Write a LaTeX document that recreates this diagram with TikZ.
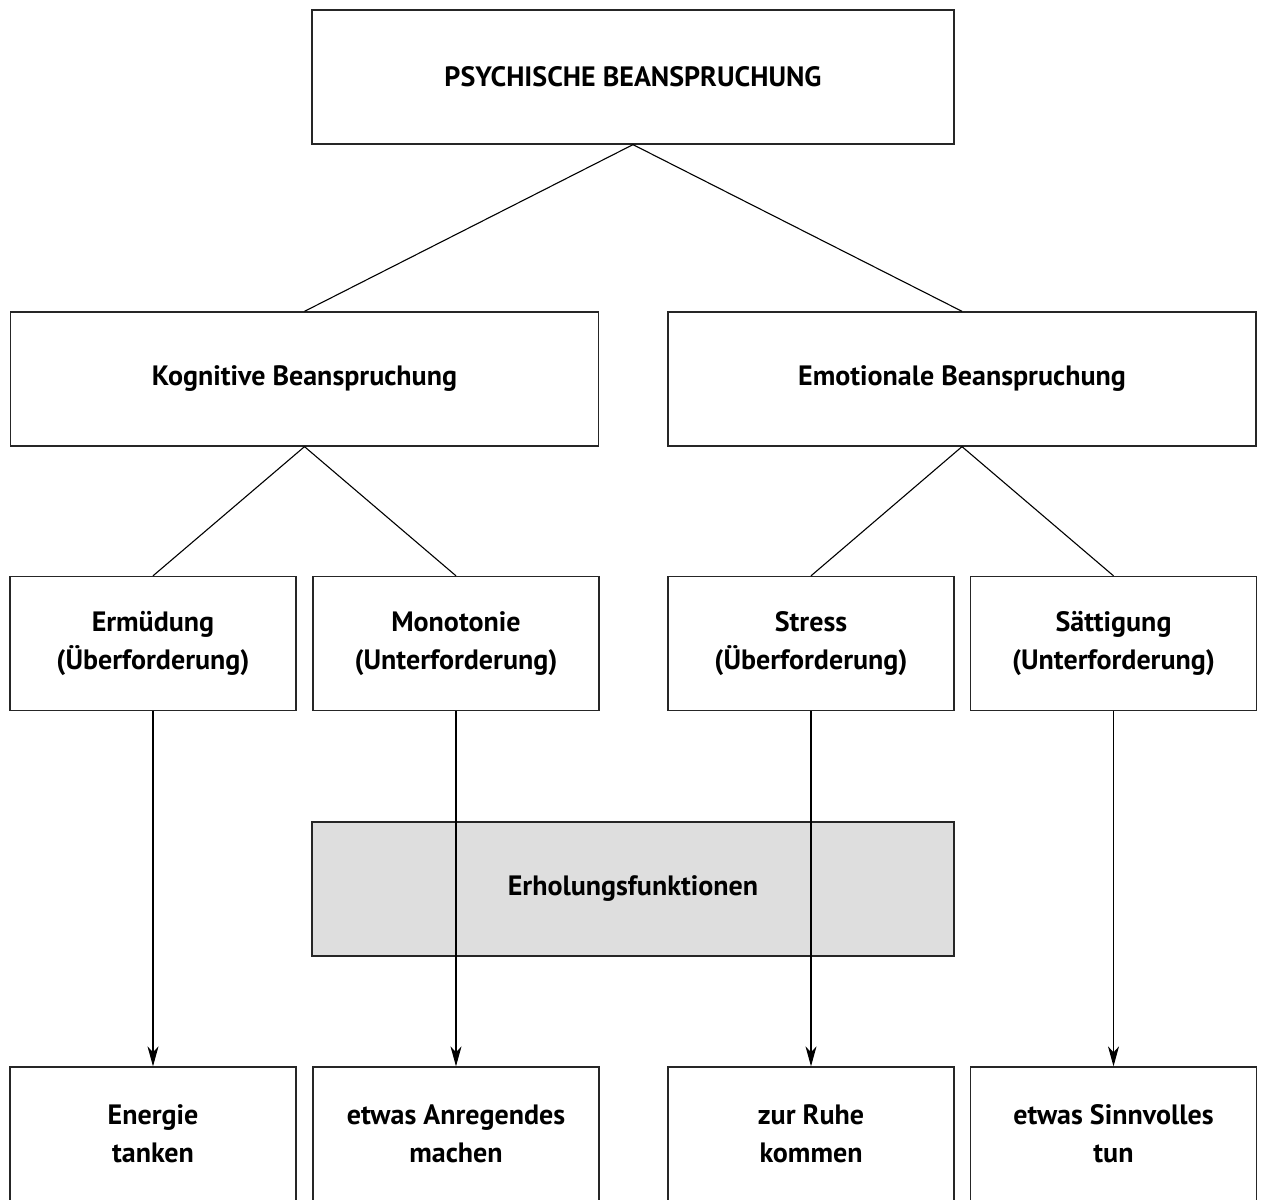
\documentclass[tikz,border=0pt]{standalone}
\usepackage{fontspec}
\setmainfont{PT Sans}
\usetikzlibrary{arrows.meta}
\begin{document}
\begin{tikzpicture}[x=1pt,y=1pt,
  box/.style={draw=black!85, line width=1.3pt, rectangle, inner sep=0pt, align=center,
     font=\fontsize{28}{38}\selectfont\bfseries, minimum height=134pt},
  wide/.style={box, minimum width=642pt},
  mid/.style={box, minimum width=588pt},
  small/.style={box, minimum width=286pt},
  grey/.style={wide, fill=black!13},
  link/.style={line width=1.1pt},
  arr/.style={line width=1.1pt, -{Stealth[length=20pt,width=11pt,inset=6pt]}}]
\useasboundingbox (0,0) rectangle (1263,1199);
\node[wide] (top) at (633,1122) {PSYCHISCHE BEANSPRUCHUNG};
\node[mid] (kog) at (304.5,820) {Kognitive Beanspruchung};
\node[mid] (emo) at (962,820) {Emotionale Beanspruchung};
\node[small] (erm) at (153,555.5) {Ermüdung\\(Überforderung)};
\node[small] (mono) at (456,555.5) {Monotonie\\(Unterforderung)};
\node[small] (stress) at (811,555.5) {Stress\\(Überforderung)};
\node[small] (saet) at (1113.5,555.5) {Sättigung\\(Unterforderung)};
\node[grey] (erh) at (633,310) {Erholungsfunktionen};
\node[small] (energie) at (153,65) {Energie\\tanken};
\node[small] (anreg) at (456,65) {etwas Anregendes\\machen};
\node[small] (ruhe) at (811,65) {zur Ruhe\\kommen};
\node[small] (sinn) at (1113.5,65) {etwas Sinnvolles\\tun};
\draw[link] (top.south) -- (kog.north);
\draw[link] (top.south) -- (emo.north);
\draw[link] (kog.south) -- (erm.north);
\draw[link] (kog.south) -- (mono.north);
\draw[link] (emo.south) -- (stress.north);
\draw[link] (emo.south) -- (saet.north);
\draw[arr] (erm.south) -- (energie.north);
\draw[arr] (mono.south) -- (anreg.north);
\draw[arr] (stress.south) -- (ruhe.north);
\draw[arr] (saet.south) -- (sinn.north);
\end{tikzpicture}
\end{document}
